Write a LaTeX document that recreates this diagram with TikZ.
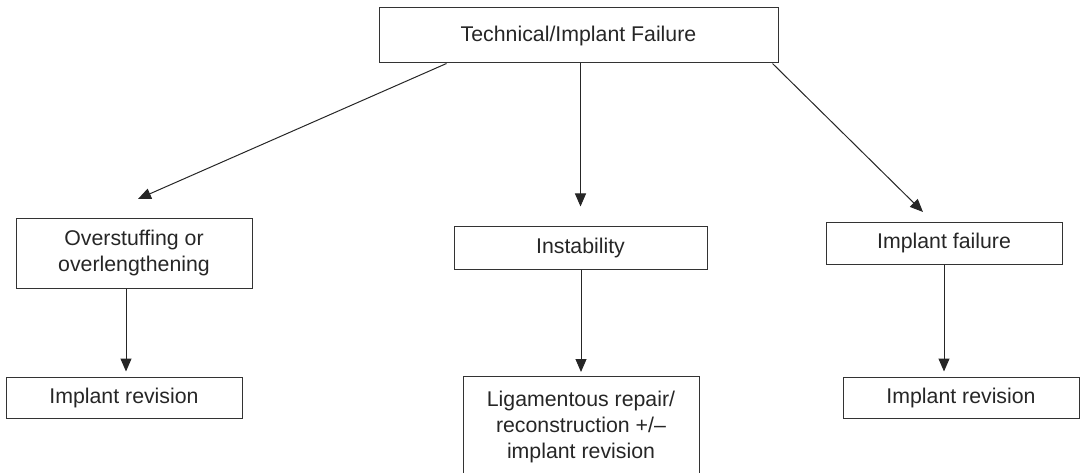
\documentclass[tikz,border=0pt]{standalone}
\usepackage{fontspec}
\setmainfont{Liberation Sans}
\usetikzlibrary{arrows.meta,calc}
\tikzset{
  box/.style={draw=black!80, line width=1pt, align=center, inner sep=0pt,
    font=\fontsize{21.3}{26}\selectfont, text=black!85},
  arr/.style={draw=black!85, line width=1pt, -{Triangle[length=13pt,width=11pt]}},
}
\begin{document}
\begin{tikzpicture}[x=1pt,y=-1pt]
\useasboundingbox (0,0) rectangle (1081,473);
\clip (0,0) rectangle (1081,473);
\node[box, minimum width=399pt, minimum height=55pt] (top) at (578.5,35.5) {Technical/Implant Failure};
\node[box, minimum width=236pt, minimum height=70pt] (over) at (134,253) {Overstuffing or\\overlengthening};
\node[box, minimum width=253pt, minimum height=43pt] (inst) at (580.5,247.5) {Instability};
\node[box, minimum width=236pt, minimum height=42pt] (fail) at (944,243) {Implant failure};
\node[box, minimum width=236pt, minimum height=41pt] (revL) at (124,397.5) {Implant revision};
\node[box, minimum width=236pt, minimum height=41pt] (revR) at (961,397.5) {Implant revision};
\node[box, minimum width=236pt, inner ysep=15pt, anchor=north] (lig) at (581,376) {Ligamentous repair/\\reconstruction +/–\\implant revision};
\coordinate (tipL) at (138,199);
\coordinate (tipR) at (923,212);
\draw[arr] ($(top.south west)+(68,0)$) -- (tipL);
\draw[arr] ($(top.south east)+(-6,0)$) -- (tipR);
\draw[arr, shorten >=19pt] (top.south -| inst.north) -- (inst.north);
\draw[arr, shorten >=5pt] ($(over.south)+(-8,0)$) -- ($(revL.north)+(2,0)$);
\draw[arr, shorten >=4pt] (inst.south -| lig.north) -- (lig.north);
\draw[arr, shorten >=5pt] (fail.south) -- (fail.south |- revR.north);
\end{tikzpicture}
\end{document}
